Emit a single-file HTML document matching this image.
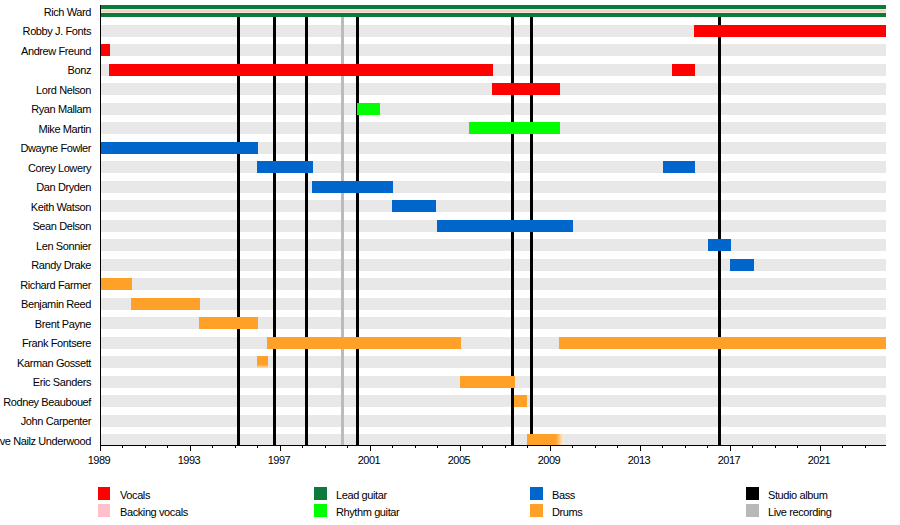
<!DOCTYPE html>
<html><head><meta charset="utf-8"><style>
html,body{margin:0;padding:0;background:#fff;}
body{width:900px;height:525px;position:relative;overflow:hidden;font-family:"Liberation Sans",Arial,sans-serif;font-size:11px;color:#000;}
div{position:absolute;}
.g{background:#e8e8e8;left:100px;width:786px;height:12px;}
.l{white-space:nowrap;right:809px;letter-spacing:-0.4px;line-height:12px;}
.y{width:40px;text-align:center;top:454px;line-height:12px;letter-spacing:-0.5px;}
.sq{width:12px;height:13px;}
.lt{white-space:nowrap;line-height:12px;letter-spacing:-0.4px;}
</style></head><body>

<div class="g" style="top:5.0px"></div>
<div class="g" style="top:24.5px"></div>
<div class="g" style="top:44.0px"></div>
<div class="g" style="top:63.5px"></div>
<div class="g" style="top:83.0px"></div>
<div class="g" style="top:102.5px"></div>
<div class="g" style="top:122.0px"></div>
<div class="g" style="top:141.5px"></div>
<div class="g" style="top:161.0px"></div>
<div class="g" style="top:180.5px"></div>
<div class="g" style="top:200.0px"></div>
<div class="g" style="top:219.5px"></div>
<div class="g" style="top:239.0px"></div>
<div class="g" style="top:258.5px"></div>
<div class="g" style="top:278.0px"></div>
<div class="g" style="top:297.5px"></div>
<div class="g" style="top:317.0px"></div>
<div class="g" style="top:336.5px"></div>
<div class="g" style="top:356.0px"></div>
<div class="g" style="top:375.5px"></div>
<div class="g" style="top:395.0px"></div>
<div class="g" style="top:414.5px"></div>
<div class="g" style="top:434.0px"></div>
<div style="left:237px;top:17px;width:3px;height:428px;background:#000"></div>
<div style="left:273px;top:17px;width:3px;height:428px;background:#000"></div>
<div style="left:305px;top:17px;width:3px;height:428px;background:#000"></div>
<div style="left:341px;top:17px;width:3px;height:428px;background:#bbbbbb"></div>
<div style="left:356px;top:17px;width:3px;height:428px;background:#000"></div>
<div style="left:511px;top:17px;width:3px;height:428px;background:#000"></div>
<div style="left:530px;top:17px;width:3px;height:428px;background:#000"></div>
<div style="left:718px;top:17px;width:3px;height:428px;background:#000"></div>
<div style="left:100px;top:5px;width:786px;height:12px;background:#0b7a3c"></div>
<div style="left:100px;top:9px;width:786px;height:4px;background:linear-gradient(#ecefd8 0,#ecefd8 25%,#f8d0c6 25%,#f8d0c6 75%,#ece9d6 75%)"></div>
<div style="left:694px;top:24.5px;width:192px;height:12px;background:#ff0000"></div>
<div style="left:100px;top:44.0px;width:10px;height:12px;background:#ff0000"></div>
<div style="left:109px;top:63.5px;width:384px;height:12px;background:#ff0000"></div>
<div style="left:672px;top:63.5px;width:23px;height:12px;background:#ff0000"></div>
<div style="left:492px;top:83.0px;width:68px;height:12px;background:#ff0000"></div>
<div style="left:357px;top:102.5px;width:23px;height:12px;background:#00ff00"></div>
<div style="left:469px;top:122.0px;width:91px;height:12px;background:#00ff00"></div>
<div style="left:100px;top:141.5px;width:158px;height:12px;background:#0066cc"></div>
<div style="left:257px;top:161.0px;width:56px;height:12px;background:#0066cc"></div>
<div style="left:663px;top:161.0px;width:32px;height:12px;background:#0066cc"></div>
<div style="left:312px;top:180.5px;width:81px;height:12px;background:#0066cc"></div>
<div style="left:392px;top:200.0px;width:44px;height:12px;background:#0066cc"></div>
<div style="left:437px;top:219.5px;width:136px;height:12px;background:#0066cc"></div>
<div style="left:708px;top:239.0px;width:23px;height:12px;background:#0066cc"></div>
<div style="left:730px;top:258.5px;width:24px;height:12px;background:#0066cc"></div>
<div style="left:100px;top:278.0px;width:32px;height:12px;background:#ffa028"></div>
<div style="left:131px;top:297.5px;width:69px;height:12px;background:#ffa028"></div>
<div style="left:199px;top:317.0px;width:59px;height:12px;background:#ffa028"></div>
<div style="left:267px;top:336.5px;width:194px;height:12px;background:#ffa028"></div>
<div style="left:559px;top:336.5px;width:327px;height:12px;background:#ffa028"></div>
<div style="left:257px;top:356.0px;width:11px;height:12px;background:linear-gradient(#ffa028 70%,#ffe0b0)"></div>
<div style="left:460px;top:375.5px;width:55px;height:12px;background:#ffa028"></div>
<div style="left:514px;top:395.0px;width:13px;height:12px;background:#ffa028"></div>
<div style="left:527px;top:434.0px;width:37px;height:12px;background:linear-gradient(90deg,#ffa028 78%,#ffd9a8 92%,#eee)"></div>
<div style="left:100px;top:5px;width:1px;height:446px;background:#000"></div>
<div style="left:100px;top:445px;width:786px;height:1px;background:#000"></div>
<div style="left:100px;top:445px;width:1px;height:6px;background:#000"></div>
<div class="y" style="left:79.0px">1989</div>
<div style="left:122px;top:445px;width:1px;height:3px;background:#000"></div>
<div style="left:145px;top:445px;width:1px;height:3px;background:#000"></div>
<div style="left:167px;top:445px;width:1px;height:3px;background:#000"></div>
<div style="left:190px;top:445px;width:1px;height:6px;background:#000"></div>
<div class="y" style="left:169.0px">1993</div>
<div style="left:212px;top:445px;width:1px;height:3px;background:#000"></div>
<div style="left:235px;top:445px;width:1px;height:3px;background:#000"></div>
<div style="left:257px;top:445px;width:1px;height:3px;background:#000"></div>
<div style="left:280px;top:445px;width:1px;height:6px;background:#000"></div>
<div class="y" style="left:259.0px">1997</div>
<div style="left:302px;top:445px;width:1px;height:3px;background:#000"></div>
<div style="left:325px;top:445px;width:1px;height:3px;background:#000"></div>
<div style="left:347px;top:445px;width:1px;height:3px;background:#000"></div>
<div style="left:370px;top:445px;width:1px;height:6px;background:#000"></div>
<div class="y" style="left:349.0px">2001</div>
<div style="left:392px;top:445px;width:1px;height:3px;background:#000"></div>
<div style="left:415px;top:445px;width:1px;height:3px;background:#000"></div>
<div style="left:437px;top:445px;width:1px;height:3px;background:#000"></div>
<div style="left:460px;top:445px;width:1px;height:6px;background:#000"></div>
<div class="y" style="left:439.0px">2005</div>
<div style="left:482px;top:445px;width:1px;height:3px;background:#000"></div>
<div style="left:505px;top:445px;width:1px;height:3px;background:#000"></div>
<div style="left:527px;top:445px;width:1px;height:3px;background:#000"></div>
<div style="left:550px;top:445px;width:1px;height:6px;background:#000"></div>
<div class="y" style="left:529.0px">2009</div>
<div style="left:572px;top:445px;width:1px;height:3px;background:#000"></div>
<div style="left:595px;top:445px;width:1px;height:3px;background:#000"></div>
<div style="left:617px;top:445px;width:1px;height:3px;background:#000"></div>
<div style="left:640px;top:445px;width:1px;height:6px;background:#000"></div>
<div class="y" style="left:619.0px">2013</div>
<div style="left:662px;top:445px;width:1px;height:3px;background:#000"></div>
<div style="left:685px;top:445px;width:1px;height:3px;background:#000"></div>
<div style="left:707px;top:445px;width:1px;height:3px;background:#000"></div>
<div style="left:730px;top:445px;width:1px;height:6px;background:#000"></div>
<div class="y" style="left:709.0px">2017</div>
<div style="left:752px;top:445px;width:1px;height:3px;background:#000"></div>
<div style="left:775px;top:445px;width:1px;height:3px;background:#000"></div>
<div style="left:797px;top:445px;width:1px;height:3px;background:#000"></div>
<div style="left:820px;top:445px;width:1px;height:6px;background:#000"></div>
<div class="y" style="left:799.0px">2021</div>
<div style="left:842px;top:445px;width:1px;height:3px;background:#000"></div>
<div style="left:865px;top:445px;width:1px;height:3px;background:#000"></div>
<div class="l" style="top:5.5px">Rich Ward</div>
<div class="l" style="top:25.0px">Robby J. Fonts</div>
<div class="l" style="top:44.5px">Andrew Freund</div>
<div class="l" style="top:64.0px">Bonz</div>
<div class="l" style="top:83.5px">Lord Nelson</div>
<div class="l" style="top:103.0px">Ryan Mallam</div>
<div class="l" style="top:122.5px">Mike Martin</div>
<div class="l" style="top:142.0px">Dwayne Fowler</div>
<div class="l" style="top:161.5px">Corey Lowery</div>
<div class="l" style="top:181.0px">Dan Dryden</div>
<div class="l" style="top:200.5px">Keith Watson</div>
<div class="l" style="top:220.0px">Sean Delson</div>
<div class="l" style="top:239.5px">Len Sonnier</div>
<div class="l" style="top:259.0px">Randy Drake</div>
<div class="l" style="top:278.5px">Richard Farmer</div>
<div class="l" style="top:298.0px">Benjamin Reed</div>
<div class="l" style="top:317.5px">Brent Payne</div>
<div class="l" style="top:337.0px">Frank Fontsere</div>
<div class="l" style="top:356.5px">Karman Gossett</div>
<div class="l" style="top:376.0px">Eric Sanders</div>
<div class="l" style="top:395.5px">Rodney Beaubouef</div>
<div class="l" style="top:415.0px">John Carpenter</div>
<div class="l" style="top:434.5px">Steve Nailz Underwood</div>
<div class="sq" style="left:98px;top:487px;width:12px;background:#ff0000"></div>
<div class="lt" style="left:120px;top:489px">Vocals</div>
<div class="sq" style="left:98px;top:504px;width:12px;background:#ffc0cb"></div>
<div class="lt" style="left:120px;top:506px">Backing vocals</div>
<div class="sq" style="left:314px;top:487px;width:13px;background:#0b7a3c"></div>
<div class="lt" style="left:336px;top:489px">Lead guitar</div>
<div class="sq" style="left:314px;top:504px;width:13px;background:#00ff00"></div>
<div class="lt" style="left:336px;top:506px">Rhythm guitar</div>
<div class="sq" style="left:530px;top:487px;width:13px;background:#0066cc"></div>
<div class="lt" style="left:552px;top:489px">Bass</div>
<div class="sq" style="left:530px;top:504px;width:13px;background:#ffa028"></div>
<div class="lt" style="left:552px;top:506px">Drums</div>
<div class="sq" style="left:746px;top:487px;width:13px;background:#000"></div>
<div class="lt" style="left:768px;top:489px">Studio album</div>
<div class="sq" style="left:746px;top:504px;width:13px;background:#b8b8b8"></div>
<div class="lt" style="left:768px;top:506px">Live recording</div>
</body></html>
